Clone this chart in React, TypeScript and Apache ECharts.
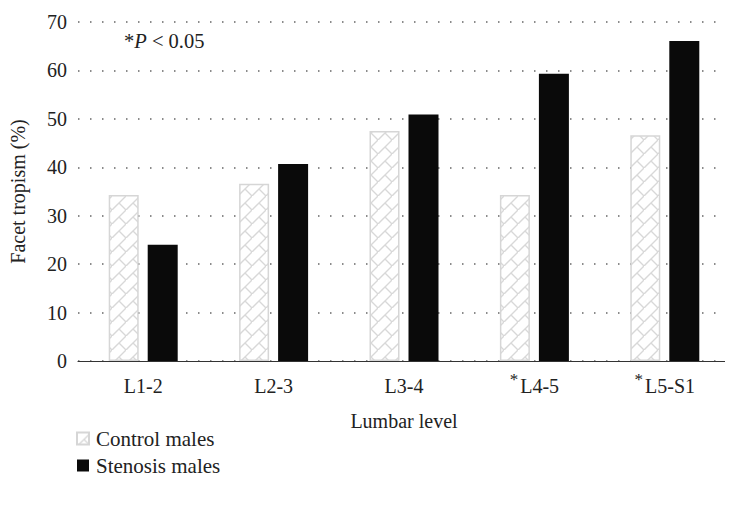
import React, { useEffect, useRef } from "react";
import * as echarts from "echarts";

const categories = ["L1-2", "L2-3", "L3-4", "L4-5", "L5-S1"];
const starred = ["L4-5", "L5-S1"];
const controlMales = [34.3, 36.6, 47.5, 34.3, 46.6];
const stenosisMales = [24.0, 40.7, 50.9, 59.3, 66.1];
const yTicks = { min: 0, max: 70, interval: 10 };
const seriesNames = ["Control males", "Stenosis males"];

const FONT = "'Liberation Serif', 'Times New Roman', serif";

const tileSvg =
  "<svg xmlns='http://www.w3.org/2000/svg' width='14' height='14'>" +
  "<rect width='14' height='14' fill='white'/>" +
  "<path d='M0 14 L14 0 M7 7 L14 14' stroke='#d8d8d8' stroke-width='1.4' fill='none'/>" +
  "</svg>";
const tileUrl = "data:image/svg+xml;charset=utf-8," + encodeURIComponent(tileSvg);

export default function App() {
  const ref = useRef<HTMLDivElement>(null);
  useEffect(() => {
    if (!ref.current) return;
    const chart = echarts.init(ref.current, null, { renderer: "svg" });
    const pattern: any = {
      image: tileUrl,
      repeat: "repeat",
      imageWidth: 14,
      imageHeight: 14,
    };
    chart.setOption({
      animation: false,
      backgroundColor: "#fff",
      textStyle: { fontFamily: FONT },
      grid: { left: 78, right: 3, top: 22, bottom: 146 },
      legend: {
        orient: "vertical",
        left: 71,
        top: 423,
        itemWidth: 12,
        itemHeight: 12,
        itemGap: 6,
        icon: "rect",
        textStyle: { fontFamily: FONT, fontSize: 21, color: "#222", padding: [0, 0, 0, 2] },
        data: seriesNames,
      },
      graphic: [
        {
          type: "text",
          left: 124,
          top: 30,
          style: {
            text: "{a|*}{b|P}{a| < 0.05}",
            rich: {
              a: { fontFamily: FONT, fontSize: 20.5, fill: "#222" },
              b: { fontFamily: FONT, fontSize: 20.5, fontStyle: "italic", fill: "#222" },
            },
          },
        },
      ],
      xAxis: {
        type: "category",
        data: categories,
        axisLine: { show: true, lineStyle: { color: "#333", width: 1.2 } },
        axisTick: { show: false },
        axisLabel: {
          margin: 10,
          formatter: (v: string) => (starred.includes(v) ? `{s|*}{t|${v}}` : `{t|${v}}`),
          rich: {
            s: {
              fontFamily: FONT,
              fontSize: 17,
              lineHeight: 4,
              verticalAlign: "top",
              color: "#222",
              padding: [0, 2, 0, 0],
            },
            t: { fontFamily: FONT, fontSize: 20, lineHeight: 30, color: "#222" },
          },
        },
        name: "Lumbar level",
        nameLocation: "middle",
        nameGap: 50,
        nameTextStyle: { fontFamily: FONT, fontSize: 20, color: "#222" },
      },
      yAxis: {
        type: "value",
        min: yTicks.min,
        max: yTicks.max,
        interval: yTicks.interval,
        axisLine: { show: false },
        axisTick: { show: false },
        axisLabel: { margin: 11, fontFamily: FONT, fontSize: 20, color: "#222" },
        splitLine: {
          show: true,
          lineStyle: { color: "#666", width: 1.5, type: [1.5, 10.5] },
        },
        name: "Facet tropism (%)",
        nameLocation: "middle",
        nameGap: 50,
        nameTextStyle: { fontFamily: FONT, fontSize: 20, color: "#222" },
      },
      series: [
        {
          name: seriesNames[0],
          type: "bar",
          data: controlMales,
          barWidth: 30,
          barGap: "30%",
          itemStyle: { color: pattern, borderColor: "#d6d6d6", borderWidth: 1.5 },
        },
        {
          name: seriesNames[1],
          type: "bar",
          data: stenosisMales,
          barWidth: 30,
          itemStyle: { color: "#0a0a0a" },
        },
      ],
    });
    return () => chart.dispose();
  }, []);
  return <div ref={ref} style={{ width: 733, height: 507, margin: -8 }} />;
}
